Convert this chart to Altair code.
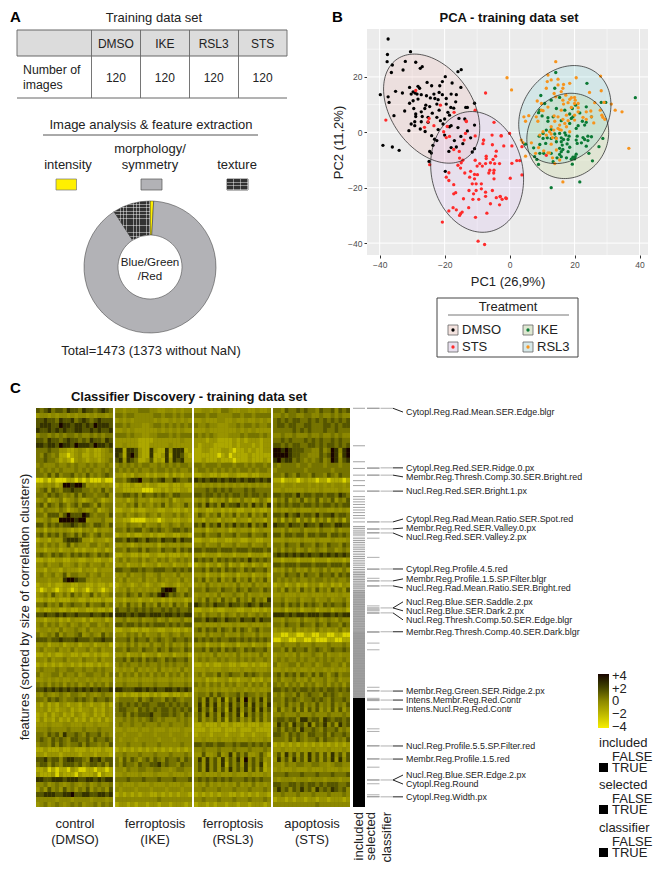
import altair as alt
import numpy as np
import pandas as pd

alt.data_transformers.disable_max_rows()
FONT = "Liberation Sans"

# ---------- panel A values
treatments = ["DMSO", "IKE", "RSL3", "STS"]
image_counts = [120, 120, 120, 120]
feature_kinds = ["intensity", "morphology", "texture"]
feature_counts = [13, 1325, 135]
kind_colors = ["#FFF000", "#B2B2B6", "#333333"]

# ---------- panel B values
dmso_x = [-37.4,-37.6,-37.7,-36.1,-36.4,-30.5,-32.1,-28.9,-32.8,-26.9,-27.5,-15.9,-14.9,-19.8,-20.7,-17.7,-25.4,-24,-21.5,-30.8,-28.2,-27.7,-15,-39.8,-37.4,-35.1,-33,-37.1,-29.7,-29.1,-28.5,-30.3,-27.2,-28.2,-30.8,-29.7,-25.6,-23.3,-21.7,-20.7,-18,-16.4,-23,-22,-24.4,-19.5,-16.6,-13.5,-10.8,-25.8,-24.6,-26.1,-22.4,-19.5,-18.1,-17.2,-13,-29.5,-32.3,-35.6,-28.9,-21.7,-19,-18.5,-23.8,-27.2,-26.9,-28.9,-25.1,-22.4,-20,-15.6,-13.8,-29.2,-30.3,-29.2,-27.2,-25.1,-21.3,-20.5,-18,-15.9,-10.8,-27.5,-31,-23.1,-22.4,-39,-36.1,-34,-23.6,-24.6,-24.1,-18.7,-18,-16.4,-14.4,-11.5,-10.8,-24.8,-19.8,-20,-18.5,-13,-15,-26,-24,-22,-17,-12]
dmso_y = [33.7,28.1,25.5,24.3,21.6,29.1,25.6,25.3,22.5,23.7,23.1,21.9,22.6,20.1,18.3,17.8,18,16.8,16.8,16.2,16.6,15.9,16.2,13.6,12.8,14.8,14.2,10.8,14.6,14.2,13.8,13.8,13.6,12,10.5,11.4,13.2,13.8,14.4,13.6,13.8,13.6,12.2,11.8,12.4,12.2,11,9,10.5,9.8,9.3,8.6,10.2,10.2,9,8.7,9,8.6,7.7,6,6.6,8,7.2,6.2,6.9,7.4,5.7,5.7,5.4,5.4,4.8,5,4.8,3.8,3,2.4,3.8,3.6,4.2,3,2.4,1.7,2.6,1.2,0.6,-2.5,-3,-4.7,-5.3,-6.5,-4.7,-6.9,-7.5,-6.9,-5.5,-5.3,-4.1,-7.1,-5.9,-10.5,-14.1,-1,2,0.5,-1.5,0.3,-1.2,1,-3,-2]
sts_x = [-28.9,-7.4,-38.1,-21.3,-17.1,-10.6,-26.2,-24.8,-25.1,-23.3,-19.2,-13.3,-4.8,-20.3,-19.5,-18.5,-13.6,-10.6,-2.6,-14,-8,-17.2,-15.5,-8.2,-5.3,-24.6,-15.4,-14.4,-14.9,-15.9,-15.1,-10.6,-9.2,-8.4,-7.2,-7.2,-4.3,-5.1,-5.9,-7.4,-4.6,-10,-6.1,-4.8,-6.4,-4.9,-3.1,-18.7,-13.8,-12,-10.8,-9.9,-12.3,-10.8,-11.5,-10.3,-8.7,-19.5,-18.7,-17.2,-4.8,-12.5,-11.1,-10.3,-8.7,-7.4,-7.4,-16.6,-17.2,-5.3,-4.1,-2.9,-2.3,-1.2,-14.2,-11.3,-9.5,-5.9,-3.1,-17.4,-16.4,-18.7,-14.6,-15.1,-15.4,-12.6,-7,-10.5,-20.7,-9.7,-7.7,-8,-5.4,-2.6,0,0.7,3.8,-1.8,-4.1,3.8,0.2,0.7,2.2,3.1,-1,-2.9,-13.4,11.3]
sts_y = [15.1,14.2,4.4,9.8,7.2,8,1.8,5,3.8,2.4,2.1,3.9,3.6,0.2,-1.9,-1.5,-0.4,-1.3,-1.3,-2.8,-2.8,-6.2,-6.9,-4.1,-4.5,-11.7,-9.3,-10.1,-11,-11.9,-12.9,-10.1,-11.3,-12.2,-8.6,-9.5,-8.6,-9.8,-11,-11.3,-11.3,-12.2,-13.7,-13.7,-14.7,-14.7,-11.3,-14.6,-14.7,-14.1,-15.2,-15.3,-16.2,-16.8,-18.6,-18.6,-18.6,-16.2,-17.4,-18.9,-16.8,-21,-22.2,-21,-20.4,-21.6,-23.1,-21.8,-22.2,-21,-23.6,-23.1,-24.2,-23.7,-24,-24.2,-24.2,-25.8,-26.2,-27.2,-28,-28.4,-28.8,-29.4,-30,-27.2,-29.2,-30.7,-32.4,-39.3,-40.5,-2.8,-1,-1.2,-0.4,-4.9,-5.2,-4.9,-6.8,-15.4,-16.6,-11.2,-10.2,-10.2,-23.9,-23.3,4.1,-8.3]
ike_x = [14.2,23.8,13.9,9.6,12.8,38.7,10.8,15.4,28.2,29.6,20.3,14.4,9.3,8.9,17,19.3,23.6,10,11.8,13.4,18.5,21.6,19.5,25.2,11.8,15.9,19,22.4,23.6,23.1,18.5,21.1,20.5,11.3,12.8,10.3,15.4,17,17.3,18.3,20.8,9.1,10.3,11.6,12.8,14.2,15.9,18,22.6,24.1,25.2,23.1,24.1,14.4,15.9,20.5,9.3,4.9,11.1,20.8,23.6,28.7,27.5,7.4,15.4,16.4,15.9,18,20.5,24.4,9.3,10.5,7.7,12.8,15.4,17.5,19.5,20.2,19,20,14.6,15.9,8.4,13.4,25.5,8.9,19.3,21.6,12.8,13.9,16.6,16.2,17.7,22.1,18.5]
ike_y = [21.6,17.7,15.9,13.3,11.6,12.5,10.4,12.6,10.8,10.8,9.8,8.6,8,7.1,8,8.6,9.2,5.9,5.3,5.6,6.6,7,5.6,5.6,4,4.2,5,4,3.6,2.6,3.2,2.4,1.4,0.8,1,-0.4,-0.4,-0.2,-1,-1.4,-1.4,-1.4,-2.2,-2,-2.2,-2,-2,-2.6,-1.9,-1.4,-1.6,-2.6,-3,-3.4,-3.4,-2.8,-4.4,-4.3,-4,-4,-5,-2.2,-5.2,-5.6,-5.8,-6.2,-7,-7,-7.9,-7.6,-7.6,-7.6,-8.8,-7.6,-8,-9.2,-9,-8.8,-9.7,-9.6,-9.2,-8.8,-9.8,-10.6,-10.3,-11.6,-11.5,-17.9,-20,-0.6,-2.6,-4.6,-4.2,-3.8,-5.4]
rsl3_x = [14.2,-0.8,0.6,11.8,20.5,28,14.9,12.8,11.6,16.6,14.9,18.5,11.3,16.4,15.9,24.6,28.2,13.7,14.2,17.3,19,20,20.2,16.4,18.5,8.5,18,16.6,20,21.1,26.2,29.1,31.3,32.5,34.6,9.8,10.3,21.1,23.6,25,27.9,13.7,14.9,17.5,20,4.4,5.9,8.2,28.4,28.7,29.3,4.9,8.7,16.4,18,13.9,25.2,25.9,15.4,12.8,14.9,12.3,13.6,10.3,9.3,15.4,11.3,18.5,3.6,4.1,6.7,12.8,13.2,17,20,12.8,8.9,12.3,13.2,4.9,13.9,15.4,36.7,16.4,8,10.5,14.4,11.8,17.5,19,21.1,15.9,11.8,9.8,22.6,23.6,14.4,15.9]
rsl3_y = [25.5,19.7,15.3,20.7,19.7,20.3,19.2,18.9,18.3,17.3,17.1,17.7,15.9,15.9,14.7,14.4,15,14,12.8,13.4,12.5,12.6,11.6,11.6,11.9,11.3,10.7,10.2,10.4,10.4,10.7,10.8,10.2,8,7.4,8,7.8,7.4,7.4,7.7,8,5.9,5.6,6.2,6.2,5.6,6,5.6,6.2,5.4,4.7,4,4,4.7,4.2,4,5.6,3.4,2.6,2,1.4,0.2,0.8,0.2,-1,1,-1,0.2,-2.8,-3.7,-3.8,-0.6,-1.9,3.2,4.4,-4.3,-5.5,-7.4,-9.2,-8.6,-11.3,-10,-5.8,-17.9,-7.6,-6.7,-6.4,-7.4,2,9,8.9,8,9.1,10.4,5.4,4.7,-2.2,0.8]
pc_groups = ["DMSO", "IKE", "RSL3", "STS"]
point_colors = ["#000000", "#0B7A35", "#F7941D", "#FF2A2A"]
ellipse_fills = ["#F8766D", "#7CAE00", "#00BFC4", "#C77CFF"]
# centre x, centre y, half extent x, half extent y, correlation
ellipse_cx = [-24.0, 17.9, 17.0, -10.0]
ellipse_cy = [8.55, -1.3, 6.4, -14.3]
ellipse_sx = [14.8, 12.6, 14.2, 14.3]
ellipse_sy = [19.7, 15.4, 17.7, 21.8]
ellipse_rho = [-0.36, 0.08, 0.2, -0.12]

# ---------- panel C values (each digit is a step on the colour bar, read through digit_scores)
digit_scores = [-4.0, -3.0, -1.3, -0.5, 0.0, 0.6, 1.5, 2.6, 4.0]
control_rows = ["65675665766576656765","34434344343443434434","66766576675676567666","67776687767767687776","76676767667766767667","45545454554544545455","66576656766565766576","77677687768777687767",
"55565533223432322345","54654522123422322344","55655423213432332345","45444544545445454454","54545454445454544545","55464645564546454565","11212111221212111211","33434238878863434343",
"45636546676655454645","55465654546465545564","34523452345323454234","56365465356466536455","43544354234543452345","55366646866687545546","33453388887883444533","66465656676565466546",
"34243434323243424334","56465646546465356455","23324336777633243323","45354534635443553454","33233423342323323423","56546565465656546565","22322332233223322332","44534453345345344534",
"33243324333243324333","45345346355445345344","44434437887664343444","23323223322332232232","21232123212321232123","34536435364534635345","22322322233223222322","55645464565546455645",
"23223322322332232232","66766767667666766767","33233423243324233423","45354534534543553454","34434353445435344344","53454635445634543645","66656676667666566766","33423342334233423342",
"45344534353445345344","22323223322322323223","44353445344354435344","23232323323232232323","45444544554454454544","53445535445345544535","33434343343443434334","54535453545345354535",
"66767676767676767667","43543454355435434544","55465654556565465565","32423243233243233242","33423233423233423243","23242342324323423243","24232423242324232423","33343334433343343334",
"44454444544454445444","55465647556546556454","56546565466556465565","45546465455646554546","22322232232223222322","33233323333233323332","66756646776654767566","56646546665645665646",
"22312122132112212212","32223132221322231322","77667776777667767677","44534543454345345445","35364536453546354536","66777667786677667767","44444344434444344434","34534543454534453545"]
ike_rows = ["44344455544334434344","55455444445545545455","34343444443433434343","55454443345545454545","33434333333434343433","55545443344555454555","33333322223333333433","33433322233333433333",
"77277632273227377723","76278632272237277632","67376522362327376733","45454545544545454554","54545454454554545445","33232433232332423233","55467785565675576556","23223223233222322322",
"33222221112232322332","55665646556565466555","33423533423343523433","44354635435463543464","22332322333223322323","44534543543534453543","33221111222123322332","44354435344534543544",
"55465664565654566565","23323223323223322332","66576765766576675766","33432343334234333433","55465564655465564656","22332232233223222323","45354453543545345454","33423342334233423342",
"66556656556665565656","34353445334534435344","43534435343543443534","23432343234323432343","34353434343478873435","55465464565787565465","33233323323323233323","45364536453645364536",
"65565656565565656556","77767677677767767677","44534453445345344534","66566565656665656566","22332232233223322323","44354535344534543544","55564655645654565565","34353534353453534353",
"55465546554654655465","33423342334233423342","55646564656546565564","45454454544545454454","34343534343534343534","53545354535453545354","33433343334333433343","44544454445444544454",
"77666776767667767676","23232232232322322323","45555464565546565455","56565656655665656565","56655465656566565656","55646566675566565465","44545454565454445454","45445445444544544454",
"33433343343334333433","44344434443444344434","43444344444344434444","44454445444544444544","23232323232323232323","44544454445444544454","53646535646546556465","54655465566756554655",
"44354455445544345544","33433343334333433343","55565556555655565556","34333433343334333433","43444344434443444344","23232323322323232332","44444444444544444444","23323233233233233323"]
rsl3_rows = ["33443435543344334334","55545544445545545555","33433344334334334343","54454433344545545445","33343333333434343333","54545433344454555454","33323322223232333233","32333222223233323233",
"22332223321223232233","22222212312222322222","22322232221222322232","55455545554554545545","45545454545455454554","22332232233222322333","76767767677676776767","34343434343434343434",
"55565656565556565555","66566565656656566565","34352343524353423542","56475647566756475647","23322332323223323223","46535463546354635464","33243324332433243324","65746574657565746574",
"33423433423433423433","55645564556455645564","22332233223322332233","44534453445344534453","66566656665666566656","33233323332333233323","65656465656565756565","23423423523423423423",
"55646564656546565564","33423342334233423342","54635463546354635463","34353434343534353434","55465546554654655465","34434353445435344344","45364536453645364537","76565766576656765766",
"22332322333223322323","45354453543545345454","66576765766576675766","33433343334333433343","56465646546465356455","44353445344354435344","65656565566565656565","33423342334233423342",
"55646564656546565564","34343534343534343534","45454454544545454454","22323223322322323223","33343334433343343334","45355464565546565455","33423233423233423243","54535453545345354535",
"34434343343443434334","45546465455646554546","46374637264738464736","47374736374637374637","37463746274736473746","46374637364727464635","36354636264635363635","22322232232223222322",
"22232223222322232222","23332333233323323332","33433343334333433343","66566566556566565656","44544454445444544454","33633463473646334642","47374637364738464634","46374637264637464724",
"46374636374647363623","33433343334333433343","56565656565556565655","34353434343534353434","44544454445444544454","23232323322323232332","44544454445444544454","23323233233233233323"]
sts_rows = ["55465565655465564656","44545544554454454544","56565665565656565656","56656655665556656566","55555656565556556555","44544544454454454544","55656555656565565655","66565665566565665656",
"88787666554464587478","88887665544465687378","78677565454564587467","54555545545554555455","45555555455555545555","55465465546554654655","22122212322122122212","44344344434343434434",
"33433333433343333433","66566575665665665765","35463546354635463546","56565665665656656566","34334343334344334343","66575675665756675665","35253525352535253525","76657665766576657766",
"44353445344354435344","66466566466566466565","33343334333433343334","55465546554654655465","45354534534543553454","67676767676676767676","33233323332333233323","66566656665666566656",
"34353534353453534353","55465564655465564656","54545454454554545445","23423423243423423243","45364536453645364536","33433343343334333433","44534453445344534453","55646564656546565564",
"33423342334233423342","77767677677767767677","44354435344534543544","55465546554654655465","34343534343534343534","22112211221122112211","11221122112111221122","44544454445444544454",
"55464655645654565565","34434353445435344344","45454454544545454454","53445535445345544535","33434343343443434334","56465646546465356455","45344534353445345344","54535453545345354535",
"66565656656565665656","45355464565546565455","55465654556565465565","45464546454645464546","36354636364635363635","44544454445444544454","56656647756647656656","47563756473657463756",
"56465647556546556454","66546565466556465565","55546465455646554546","23232323232323232323","33433343334333433343","46374636374636374636","37463746374636473746","44354455445544345544",
"34333433343334333433","55565556555655565556","43444344434443444344","66556656566565666556","57564657564756576564","44544454445444544454","23323233233233233323","44444444444544444444"]
panel_rows = [control_rows, ike_rows, rsl3_rows, sts_rows]

n_features = 1373
included_lines = [1,130,185,208,231,250,267,286,305,314,323,332,342,351,360,370,379,392,408,415,423,430,437,448,456,463,471,479,486,494,503,511,518,526,534,541,549,556,565,573,581,590,598,606,613,620,628,635,644,651,660,668,676,684,692,701,709,717,726,734,743,751,760,768,776,785,793,802,810,819,827,836,845,853,862,870,879,888,896,905,914,922,931,940,948,957,966,975,984,992]
included_bands_start = [405, 560, 630, 770, 998]
included_bands_end = [560, 630, 770, 998, 1373]
included_bands_shade = [0.06, 0.18, 0.32, 0.38, 1.0]
selected_lines = [1,208,231,286,392,417,429,448,514,555,586,595,613,681,692,695,698,706,772,809,832,961,972,999,1003,1007,1037,1104,1113,1162,1207,1236,1280,1293,1331,1337]
classifier_lines = [1,206,231,286,392,416,430,554,595,612,688,705,770,974,1005,1036,1163,1208,1280,1338]
feature_names = ["Cytopl.Reg.Rad.Mean.SER.Edge.blgr","Cytopl.Reg.Red.SER.Ridge.0.px","Membr.Reg.Thresh.Comp.30.SER.Bright.red","Nucl.Reg.Red.SER.Bright.1.px","Cytopl.Reg.Rad.Mean.Ratio.SER.Spot.red","Membr.Reg.Red.SER.Valley.0.px","Nucl.Reg.Red.SER.Valley.2.px","Cytopl.Reg.Profile.4.5.red","Membr.Reg.Profile.1.5.SP.Filter.blgr","Nucl.Reg.Rad.Mean.Ratio.SER.Bright.red","Nucl.Reg.Blue.SER.Saddle.2.px","Nucl.Reg.Blue.SER.Dark.2.px","Nucl.Reg.Thresh.Comp.50.SER.Edge.blgr","Membr.Reg.Thresh.Comp.40.SER.Dark.blgr","Membr.Reg.Green.SER.Ridge.2.px","Intens.Membr.Reg.Red.Contr","Intens.Nucl.Reg.Red.Contr","Nucl.Reg.Profile.5.5.SP.Filter.red","Membr.Reg.Profile.1.5.red","Nucl.Reg.Blue.SER.Edge.2.px","Cytopl.Reg.Round","Cytopl.Reg.Width.px"]
feature_ranks = [1,206,231,286,392,416,430,554,595,612,688,688,705,770,974,1005,1036,1163,1208,1280,1280,1338]
label_ranks = [14,206,237,286,382,413,444,554,588,619,667,698,729,770,974,1005,1036,1163,1208,1263,1294,1338]
colorbar_ticks = ["+4", "+2", "0", "\u22122", "\u22124"]


def text(t, x, y, size=13, align="left", bold=False, angle=0, color="#222222", baseline="middle"):
    return alt.Chart(alt.Data(values=[{"t": t}])).mark_text(
        font=FONT, fontSize=size, align=align, baseline=baseline, angle=angle, color=color,
        fontWeight="bold" if bold else "normal",
    ).encode(x=alt.value(x), y=alt.value(y), text="t:N")


def box(x1, y1, x2, y2, fill, stroke=None, sw=1.0):
    kw = {"fill": fill}
    if stroke:
        kw.update(stroke=stroke, strokeWidth=sw)
    return alt.Chart(alt.Data(values=[{"t": 1}])).mark_rect(**kw).encode(
        x=alt.value(x1), x2=alt.value(x2), y=alt.value(y1), y2=alt.value(y2))


def line(x1, y1, x2, y2, color="#555555", w=1.0):
    return alt.Chart(alt.Data(values=[{"t": 1}])).mark_rule(color=color, strokeWidth=w).encode(
        x=alt.value(x1), x2=alt.value(x2), y=alt.value(y1), y2=alt.value(y2))


def hatch(vertical, periods, alpha=0.75):
    stops = []
    for i in range(periods):
        a, b, c = i / periods, (i + 0.76) / periods, (i + 1) / periods
        stops += [{"offset": a, "color": "rgba(255,255,255,0)"}, {"offset": b, "color": "rgba(255,255,255,0)"},
                  {"offset": b, "color": f"rgba(255,255,255,{alpha})"}, {"offset": c, "color": f"rgba(255,255,255,{alpha})"}]
    g = {"gradient": "linear", "stops": stops, "x1": 0, "y1": 0, "x2": 1, "y2": 0}
    if vertical:
        g.update(x2=0, y2=1)
    return g


# ---------- panel A
table = pd.DataFrame({"treat": treatments, "n": image_counts})
tx = alt.X("treat:N", sort=treatments, axis=None, scale=alt.Scale(type="band", range=[83.5, 279], paddingInner=0, paddingOuter=0))
a_layers = [
    text("A", 2, 2, size=15, bold=True, baseline="top", color="#000000"),
    text("Training data set", 146, 10, align="center"),
    box(9, 22, 279, 48, "#DCDCDC"),
    alt.Chart(table).mark_text(font=FONT, fontSize=12, color="#222222").encode(x=tx, y=alt.value(36), text="treat:N"),
    alt.Chart(table).mark_text(font=FONT, fontSize=12, color="#222222").encode(x=tx, y=alt.value(70), text="n:Q"),
    text("Number of", 15, 62, size=12.3),
    text("images", 15, 77, size=12.3),
]
for yy in (22, 48, 90):
    a_layers.append(line(9, yy, 279, yy, "#666666", 1))
for xx in (83.5, 132.5, 181.5, 230.5):
    a_layers.append(line(xx, 22, xx, 90, "#666666", 0.9))
for xx in (9, 279):
    a_layers.append(line(xx, 22, xx, 48, "#666666", 0.9))
a_layers += [
    text("Image analysis & feature extraction", 143, 117, align="center"),
    line(35, 127, 250, 127, "#555555", 1),
    text("morphology/", 142, 141, align="center"),
    text("intensity", 60, 157, align="center"),
    text("symmetry", 142, 157, align="center"),
    text("texture", 229, 157, align="center"),
    box(48, 171, 68.5, 182, "#FFF000", "#777777", 0.7),
    box(133, 171, 154, 182, "#B2B2B6", "#555555", 0.7),
    box(219, 171, 240, 182, "#333333", "#333333", 0.7),
    box(219, 171, 240, 182, hatch(False, 6, 0.45)),
    box(219, 171, 240, 182, hatch(True, 3, 0.45)),
]
kinds = pd.DataFrame({"kind": feature_kinds, "n": feature_counts, "i": [0, 1, 2]})
arc_enc = dict(theta=alt.Theta("n:Q", stack=True), order=alt.Order("i:Q"), x=alt.value(142), y=alt.value(259))
a_layers.append(alt.Chart(kinds).mark_arc(outerRadius=66, innerRadius=32, stroke="#333333", strokeWidth=0.5).encode(
    color=alt.Color("kind:N", scale=alt.Scale(domain=feature_kinds, range=kind_colors), legend=None), **arc_enc))
for vert in (False, True):
    a_layers.append(alt.Chart(kinds).mark_arc(outerRadius=66, innerRadius=32, fill=hatch(vert, 11, 0.45)).encode(
        fillOpacity=alt.condition("datum.kind == 'texture'", alt.value(1), alt.value(0)), **arc_enc))
a_layers += [
    text("Blue/Green", 142, 255, size=11.6, align="center"),
    text("/Red", 142, 269, size=11.6, align="center"),
    text("Total=1473 (1373 without NaN)", 143, 343, align="center"),
]
panel_a = alt.layer(*a_layers).properties(width=359, height=400)

# ---------- panel B  (plot area starts 21px under the top of this panel)
points = pd.concat([
    pd.DataFrame({"x": xs, "y": ys, "g": g})
    for xs, ys, g in [(dmso_x, dmso_y, "DMSO"), (sts_x, sts_y, "STS"), (ike_x, ike_y, "IKE"), (rsl3_x, rsl3_y, "RSL3")]
])
XD, YD = [-43.9, 42.6], [-44.3, 37.3]
area_rows, outline_rows = [], []
for g, cx, cy, sx, sy, rho in zip(pc_groups, ellipse_cx, ellipse_cy, ellipse_sx, ellipse_sy, ellipse_rho):
    t = np.linspace(0, np.pi, 61)
    ex = cx + sx * np.cos(t)
    mid = cy + rho * sy * np.cos(t)
    half = sy * np.sqrt(1 - rho ** 2) * np.sin(t)
    area_rows.append(pd.DataFrame({"x": ex, "y": mid + half, "y2": mid - half, "g": g}))
    lx = np.r_[ex, ex[::-1]]
    ly = np.r_[mid + half, (mid - half)[::-1]]
    outline_rows.append(pd.DataFrame({"x": lx, "y": ly, "g": g, "i": np.arange(lx.size)}))
ell_area = pd.concat(area_rows)
ell_line = pd.concat(outline_rows)
x_scale = alt.Scale(domain=XD, nice=False, zero=False)
y_scale = alt.Scale(domain=YD, range=[247, 21], nice=False, zero=False)
axis_style = dict(grid=False, domain=False, tickColor="#333333", tickSize=3,
                  labelFontSize=8.5, labelColor="#4D4D4D", labelFont=FONT, titleFont=FONT, titleFontSize=13,
                  titleFontWeight="normal", titleColor="#222222", labelPadding=2)
minor_ticks = [-30, -10, 10, 30]
x_major = [-40, -20, 0, 20, 40]
y_major = [-40, -20, 0, 20]
x_axis = alt.Axis(values=x_major, titlePadding=7, **axis_style)
y_axis = alt.Axis(values=y_major, titlePadding=2, titleY=134, **axis_style)
sx_plain = alt.X("x:Q", scale=x_scale, title="PC1 (26,9%)", axis=x_axis)
sy_plain = alt.Y("y:Q", scale=y_scale, title="PC2 (11,2%)", axis=y_axis)


def v_grid(vals, w):
    return alt.Chart(pd.DataFrame({"x": vals})).mark_rule(color="#FFFFFF", strokeWidth=w).encode(
        x=sx_plain, y=alt.value(21), y2=alt.value(247))


def h_grid(vals, w):
    return alt.Chart(pd.DataFrame({"y": vals})).mark_rule(color="#FFFFFF", strokeWidth=w).encode(y=sy_plain)


b_layers = [
    text("B", -35, 2, size=15, bold=True, baseline="top", color="#000000"),
    text("PCA - training data set", 142, 10, bold=True, align="center", color="#111111"),
    box(0, 21, 281, 247, "#EBEBEB"),
    v_grid(minor_ticks, 0.5), h_grid(minor_ticks, 0.5), v_grid(x_major, 1), h_grid(y_major, 1),
    alt.Chart(ell_area).mark_area(opacity=0.1).encode(
        x=sx_plain, y=sy_plain, y2="y2:Q",
        fill=alt.Fill("g:N", scale=alt.Scale(domain=pc_groups, range=ellipse_fills), legend=None)),
    alt.Chart(points).mark_circle(size=11, opacity=1).encode(
        x=sx_plain, y=sy_plain,
        color=alt.Color("g:N", scale=alt.Scale(domain=pc_groups, range=point_colors), legend=None)),
    alt.Chart(ell_line).mark_line(color="#222222", strokeWidth=0.9, opacity=0.8).encode(
        x=sx_plain, y=sy_plain, detail="g:N", order="i:Q"),
    # legend, below the plot
    box(70, 290, 211, 349, "#FFFFFF", "#444444", 1),
    text("Treatment", 141, 299, size=13, align="center"),
    line(81, 307, 202, 307, "#777777", 1),
]
legend_spots = [("DMSO", 86, 322, "#F4E3DF", "#000000"), ("STS", 86, 339, "#E8E0EE", "#FF2A2A"),
                ("IKE", 161, 322, "#DFE8D2", "#0B7A35"), ("RSL3", 161, 339, "#D6E8E8", "#F7941D")]
for name, lx, ly, fill, col in legend_spots:
    b_layers.append(box(lx - 5, ly - 5, lx + 5, ly + 5, fill, "#666666", 0.8))
    b_layers.append(alt.Chart(alt.Data(values=[{"t": name}])).mark_circle(size=11, color=col, opacity=1).encode(
        x=alt.value(lx), y=alt.value(ly)))
    b_layers.append(text(name, lx + 9, ly, size=13))
panel_b = alt.layer(*b_layers).properties(width=281, height=247)

# ---------- panel C
cols = 20
pitch = 20.6
heat = pd.DataFrame([
    {"x0": p * pitch + c, "x1": p * pitch + c + 1, "r0": r * n_features / 80, "r1": (r + 1) * n_features / 80, "z": digit_scores[int(d)]}
    for p, rows in enumerate(panel_rows) for r, row in enumerate(rows) for c, d in enumerate(row)
])
color_scale = alt.Scale(domain=[-4, 0, 4], range=["#F7EE00", "#8C8800", "#000000"])
rank_scale = alt.Scale(domain=[0, n_features], range=[0, 399], nice=False, zero=False)
labels = pd.DataFrame({"name": feature_names, "f": feature_ranks, "l": label_ranks})
x_col = {"included": (345, 357), "selected": (359, 371.5), "classifier": (372.5, 385)}


def stripes(ranks, col, color, w=1.0):
    xa, xb = x_col[col]
    return alt.Chart(pd.DataFrame({"r": ranks})).mark_rule(color=color, strokeWidth=w).encode(
        x=alt.value(xa), x2=alt.value(xb), y=alt.Y("r:Q", scale=rank_scale, axis=None))


c_layers = [box(a, 0, b, 399, "#807C00") for a, b in ((28, 105), (108, 184), (186, 263), (265, 342))]
c_layers += [
    alt.Chart(heat).mark_rect().encode(
        x=alt.X("x0:Q", scale=alt.Scale(domain=[0, 3 * pitch + cols], range=[28, 342], nice=False, zero=False), axis=None),
        x2="x1:Q",
        y=alt.Y("r0:Q", scale=rank_scale, axis=None), y2="r1:Q",
        color=alt.Color("z:Q", scale=color_scale, legend=alt.Legend(
            type="gradient", orient="none", legendX=590, legendY=266, title=None,
            gradientLength=54, gradientThickness=11, labelOpacity=0, padding=0))),
    alt.Chart(pd.DataFrame({"a": included_bands_start, "b": included_bands_end, "s": included_bands_shade})).mark_rect(color="#000000").encode(
        x=alt.value(345), x2=alt.value(357), y=alt.Y("a:Q", scale=rank_scale, axis=None), y2="b:Q",
        opacity=alt.Opacity("s:Q", scale=None)),
    stripes(included_lines, "included", "#999999", 0.9),
    stripes(selected_lines, "selected", "#B0B0B0", 1),
    stripes(classifier_lines, "classifier", "#B0B0B0", 1),
    stripes(classifier_lines, "selected", "#999999", 1),
    alt.Chart(labels).mark_rule(color="#222222", strokeWidth=1).encode(
        x=alt.value(385), x2=alt.value(395), y=alt.Y("f:Q", scale=rank_scale, axis=None), y2="l:Q"),
    alt.Chart(labels).mark_text(font=FONT, fontSize=8.9, align="left", color="#222222").encode(
        x=alt.value(398), y=alt.Y("l:Q", scale=rank_scale, axis=None), text="name:N"),
    text("C", 2, -20, size=15, bold=True, color="#000000"),
    text("Classifier Discovery - training data set", 181, -11, bold=True, align="center", color="#111111"),
    text("features (sorted by size of correlation clusters)", 17, 199, angle=270, align="center"),
]
for name, sub, cx in [("control", "(DMSO)", 67), ("ferroptosis", "(IKE)", 147), ("ferroptosis", "(RSL3)", 225), ("apoptosis", "(STS)", 304)]:
    c_layers.append(text(name, cx, 416, align="center"))
    c_layers.append(text(sub, cx, 432, align="center"))
for name, xx in [("included", 351), ("selected", 363), ("classifier", 379)]:
    c_layers.append(text(name, xx, 404, align="right", angle=270))
for lab, yy in zip(colorbar_ticks, (268, 281, 293, 306, 319)):
    c_layers.append(text(lab, 604, yy))
    c_layers.append(line(590, yy, 593, yy, "#FFFFFF", 0.8))
    c_layers.append(line(598, yy, 601, yy, "#FFFFFF", 0.8))
for name, yy in [("included", 335), ("selected", 377), ("classifier", 420)]:
    c_layers.append(text(name, 591, yy))
    c_layers.append(text("FALSE", 604, yy + 14))
    c_layers.append(box(591, yy + 20, 600, yy + 29, "#000000"))
    c_layers.append(text("TRUE", 604, yy + 25))
panel_c = alt.layer(*c_layers).properties(width=359, height=399)

chart = alt.concat(panel_a, panel_b, panel_c, columns=2, spacing=0, bounds="flush").resolve_scale(
    color="independent", fill="independent", stroke="independent", theta="independent", opacity="independent"
).properties(padding=0, background="#FFFFFF").configure_view(stroke=None)
chart.save("out.html", embed_options={"renderer": "svg", "actions": False})
